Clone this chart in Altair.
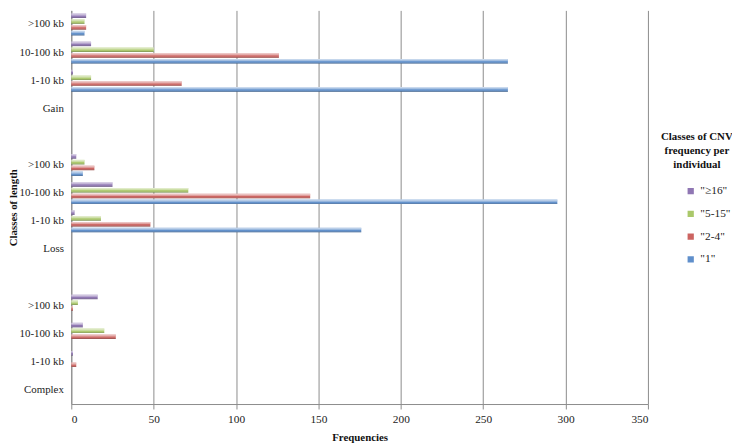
import altair as alt
import pandas as pd

# Row keys "group|label" (label shown on axis); spacer rows have empty label
rows = ["Gain|>100 kb", "Gain|10-100 kb", "Gain|1-10 kb", "Gain|Gain", "s1|",
        "Loss|>100 kb", "Loss|10-100 kb", "Loss|1-10 kb", "Loss|Loss", "s2|",
        "Complex|>100 kb", "Complex|10-100 kb", "Complex|1-10 kb", "Complex|Complex"]

data_rows = ["Gain|>100 kb", "Gain|10-100 kb", "Gain|1-10 kb",
             "Loss|>100 kb", "Loss|10-100 kb", "Loss|1-10 kb",
             "Complex|>100 kb", "Complex|10-100 kb", "Complex|1-10 kb"]

series = ['"≥16"', '"5-15"', '"2-4"', '"1"']
v_16 = [9, 12, 1, 3, 25, 2, 16, 7, 1]
v_5_15 = [8, 50, 12, 8, 71, 18, 4, 20, 0]
v_2_4 = [9, 126, 67, 14, 145, 48, 1, 27, 3]
v_1 = [8, 265, 265, 7, 295, 176, 0, 0, 0]
colors = ["#8f76b3", "#aac86a", "#cc6461", "#5f8fcb"]

records = []
for s, vals in zip(series, [v_16, v_5_15, v_2_4, v_1]):
    for k, v in zip(data_rows, vals):
        records.append({"row": k, "series": s, "value": v})
df = pd.DataFrame(records)

FONT = "Times New Roman, Liberation Serif, serif"

y_enc = alt.Y("row:N",
              scale=alt.Scale(domain=rows, paddingInner=0.22, paddingOuter=0.11),
              axis=alt.Axis(title="Classes of length",
                            labelExpr="split(datum.value, '|')[1]",
                            ticks=False, domainColor="#8c8c8c",
                            labelFont=FONT, labelFontSize=11, labelColor="#222",
                            labelPadding=8,
                            titleFont=FONT, titleFontSize=11, titleFontWeight="bold",
                            titleColor="#111", titleX=-53))
x_enc = alt.X("value:Q",
              scale=alt.Scale(domain=[0, 350]),
              axis=alt.Axis(title="Frequencies", values=[0, 50, 100, 150, 200, 250, 300, 350],
                            grid=True, gridColor="#8c8c8c", domainColor="#8c8c8c",
                            tickColor="#8c8c8c", tickSize=5,
                            labelFont=FONT, labelFontSize=11.5, labelColor="#222",
                            labelPadding=5,
                            titleFont=FONT, titleFontSize=11, titleFontWeight="bold",
                            titleColor="#111", titlePadding=6))
yoff = alt.YOffset("series:N", scale=alt.Scale(domain=series, paddingInner=0.22))

base = alt.Chart(df).transform_filter("datum.value > 0")

bars = base.mark_bar(cornerRadius=0).encode(
    x=x_enc, y=y_enc, yOffset=yoff,
    color=alt.Color("series:N", scale=alt.Scale(domain=series, range=colors),
                    legend=alt.Legend(
                        title=["Classes of CNV", "frequency per", "individual"],
                        orient="none", legendX=596.5, legendY=122,
                        titleAlign="center", titleAnchor="middle",
                        titleFont=FONT, titleFontSize=11, titleFontWeight="bold",
                        titleColor="#111", titleLineHeight=14, titlePadding=16,
                        labelFont=FONT, labelFontSize=11.5, labelColor="#222",
                        symbolType="square", symbolSize=40, symbolStrokeWidth=0,
                        rowPadding=10, symbolOffset=22)),
)

shade = base.mark_bar(color=alt.Gradient(
    gradient="linear", x1=0, y1=0, x2=0, y2=1,
    stops=[alt.GradientStop(color="rgba(255,255,255,0.75)", offset=0),
           alt.GradientStop(color="rgba(255,255,255,0.3)", offset=0.45),
           alt.GradientStop(color="rgba(255,255,255,0)", offset=0.6),
           alt.GradientStop(color="rgba(0,0,0,0.35)", offset=1)])).encode(
    x=x_enc, y=y_enc, yOffset=yoff,
)

chart = alt.layer(bars, shade).properties(
    width=583, height=398,
    padding={"left": 64, "top": 0, "right": 85, "bottom": 38},
    autosize=alt.AutoSizeParams(type="none"),
    background="white",
).configure_view(stroke="transparent")

chart.save("out.html", embed_options={"renderer": "svg", "actions": False})
